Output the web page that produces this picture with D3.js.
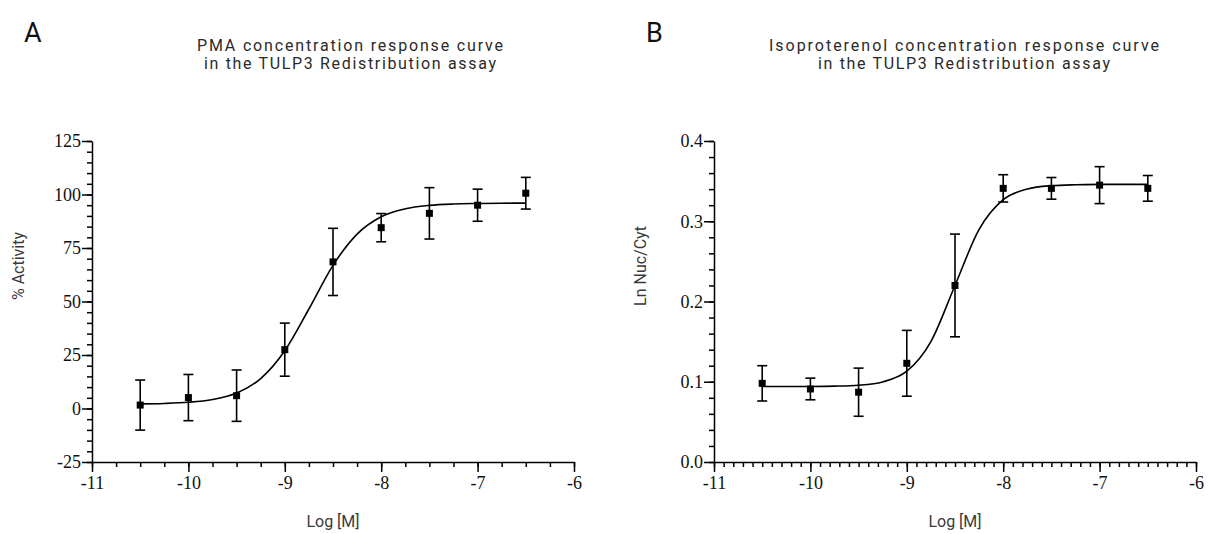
<!DOCTYPE html>
<html>
<head>
<meta charset="utf-8">
<script src="https://cdn.jsdelivr.net/npm/d3@7.9.0/dist/d3.min.js"></script>
<style>
  body { margin: 0; background: #fff; }
  svg { display: block; }
</style>
</head>
<body>
<svg id="chart" width="1208" height="534"></svg>
<script>
// measured concentrations (log M)
const logConc = [-10.5, -10, -9.5, -9, -8.5, -8, -7.5, -7, -6.5];

// panel A: PMA, % activity
const pmaMean = [1.6, 5.1, 6.0, 27.5, 68.5, 84.5, 91.2, 95.0, 100.6];
const pmaErr = [11.7, 10.8, 12.0, 12.4, 15.7, 6.6, 12.0, 7.5, 7.4];

// panel B: isoproterenol, ln nuc/cyt
const isoMean = [0.098, 0.091, 0.087, 0.123, 0.220, 0.341, 0.341, 0.345, 0.341];
const isoErr = [0.022, 0.0135, 0.030, 0.041, 0.064, 0.017, 0.0135, 0.023, 0.016];

// fitted curves
const curveX = [-10.5, -10.25, -10, -9.75, -9.5, -9.25, -9, -8.75, -8.5, -8.25, -8, -7.75, -7.5, -7.25, -7, -6.75, -6.5];
const pmaCurve = [2.15, 2.36, 2.9, 4.2, 7.2, 14.0, 27.0, 46.5, 66.9, 81.5, 89.6, 93.3, 94.9, 95.55, 95.8, 95.93, 95.97];
const isoCurve = [0.0940, 0.0940, 0.0941, 0.0945, 0.0957, 0.0998, 0.1131, 0.1501, 0.220, 0.2899, 0.3269, 0.3402, 0.3443, 0.3455, 0.3459, 0.3460, 0.3460];

// ticks
const xMajor = [-11, -10, -9, -8, -7, -6];
const xMinorA = d3.range(-11, -5.99, 0.25);
const xMinorB = d3.range(-11, -5.99, 0.1);
const yMajorA = [-25, 0, 25, 50, 75, 100, 125];
const yMinorA = d3.range(-25, 125.1, 5);
const yMajorB = [0, 0.1, 0.2, 0.3, 0.4];
const yMinorB = d3.range(0, 0.401, 0.02);

const serif = '"Liberation Serif", "Times New Roman", "DejaVu Serif", serif';
const narrow = 'Roboto, "Liberation Sans Narrow", "Liberation Sans", sans-serif';

const svg = d3.select('#chart');

function drawPanel(p) {
  const x = d3.scaleLinear().domain([-11, -6]).range([p.left, p.left + 482]);
  const y = d3.scaleLinear().domain(p.yDomain).range([462, 141]);
  const g = svg.append('g');

  // minor ticks first
  g.append('g')
    .attr('transform', 'translate(0,462)')
    .call(d3.axisBottom(x).tickValues(p.xMinor).tickSize(5).tickFormat(''))
    .call((a) => a.select('.domain').remove());
  g.append('g')
    .attr('transform', `translate(${p.left},0)`)
    .call(d3.axisLeft(y).tickValues(p.yMinor).tickSize(5).tickFormat(''))
    .call((a) => a.select('.domain').remove());

  // major ticks + labels
  g.append('g')
    .attr('transform', 'translate(0,462)')
    .call(d3.axisBottom(x).tickValues(xMajor).tickSize(10).tickSizeOuter(0).tickPadding(4).tickFormat(d3.format('d')));
  g.append('g')
    .attr('transform', `translate(${p.left},0)`)
    .call(d3.axisLeft(y).tickValues(p.yMajor).tickSize(10).tickSizeOuter(0).tickPadding(1).tickFormat(p.fmt));

  g.selectAll('.domain, .tick line').attr('stroke', '#000').attr('stroke-width', 1.5);
  g.selectAll('.tick text')
    .style('font-family', serif)
    .style('font-size', '18px')
    .style('fill', '#111')
    .text(function () { return this.textContent.replace('−', '-'); });

  // fitted curve
  const line = d3.line()
    .x((d, i) => x(curveX[i]))
    .y((d) => y(d))
    .curve(d3.curveMonotoneX);
  g.append('path')
    .attr('d', line(p.curve))
    .attr('fill', 'none')
    .attr('stroke', '#000')
    .attr('stroke-width', 1.6);

  // error bars
  const bars = g.append('g').attr('stroke', '#000').attr('stroke-width', 1.6);
  logConc.forEach((c, i) => {
    const cx = x(c);
    const hi = y(p.mean[i] + p.err[i]);
    const lo = y(p.mean[i] - p.err[i]);
    bars.append('line').attr('x1', cx).attr('x2', cx).attr('y1', hi).attr('y2', lo);
    bars.append('line').attr('x1', cx - 5).attr('x2', cx + 5).attr('y1', hi).attr('y2', hi);
    bars.append('line').attr('x1', cx - 5).attr('x2', cx + 5).attr('y1', lo).attr('y2', lo);
  });

  // points
  g.selectAll('rect.pt')
    .data(p.mean)
    .join('rect')
    .attr('class', 'pt')
    .attr('x', (d, i) => x(logConc[i]) - 3.5)
    .attr('y', (d) => y(d) - 3.5)
    .attr('width', 7)
    .attr('height', 7)
    .attr('fill', '#000');

  // titles
  g.append('text')
    .attr('x', p.panelX).attr('y', 42)
    .style('font-family', narrow).style('font-size', '27px').style('fill', '#111')
    .text(p.panel);
  p.title.forEach((t, i) => {
    g.append('text')
      .attr('x', p.titleX).attr('y', 51 + i * 18)
      .attr('text-anchor', 'middle')
      .attr('textLength', p.titleW[i])
      .attr('lengthAdjust', 'spacing')
      .style('font-family', narrow).style('font-size', '16px').style('fill', '#2a2a2a')
      .text(t);
  });
  g.append('text')
    .attr('transform', `translate(${p.left - 68},266) rotate(-90)`)
    .attr('text-anchor', 'middle')
    .style('font-family', narrow).style('font-size', '16px').style('fill', '#3a3a3a')
    .text(p.yLabel);
  g.append('text')
    .attr('x', p.left + 241).attr('y', 527)
    .attr('text-anchor', 'middle')
    .style('font-family', narrow).style('font-size', '16px').style('fill', '#3a3a3a')
    .text('Log [M]');
}

drawPanel({
  left: 92, yDomain: [-25, 125], yMajor: yMajorA, yMinor: yMinorA, xMinor: xMinorA,
  fmt: d3.format('d'), mean: pmaMean, err: pmaErr, curve: pmaCurve,
  panel: 'A', panelX: 24, titleX: 350, yLabel: '% Activity', titleW: [306, 292],
  title: ['PMA concentration response curve', 'in the TULP3 Redistribution assay']
});
drawPanel({
  left: 714, yDomain: [0, 0.4], yMajor: yMajorB, yMinor: yMinorB, xMinor: xMinorB,
  fmt: d3.format('.1f'), mean: isoMean, err: isoErr, curve: isoCurve,
  panel: 'B', panelX: 646, titleX: 964, yLabel: 'Ln Nuc/Cyt', titleW: [390, 292],
  title: ['Isoproterenol concentration response curve', 'in the TULP3 Redistribution assay']
});
</script>
</body>
</html>
